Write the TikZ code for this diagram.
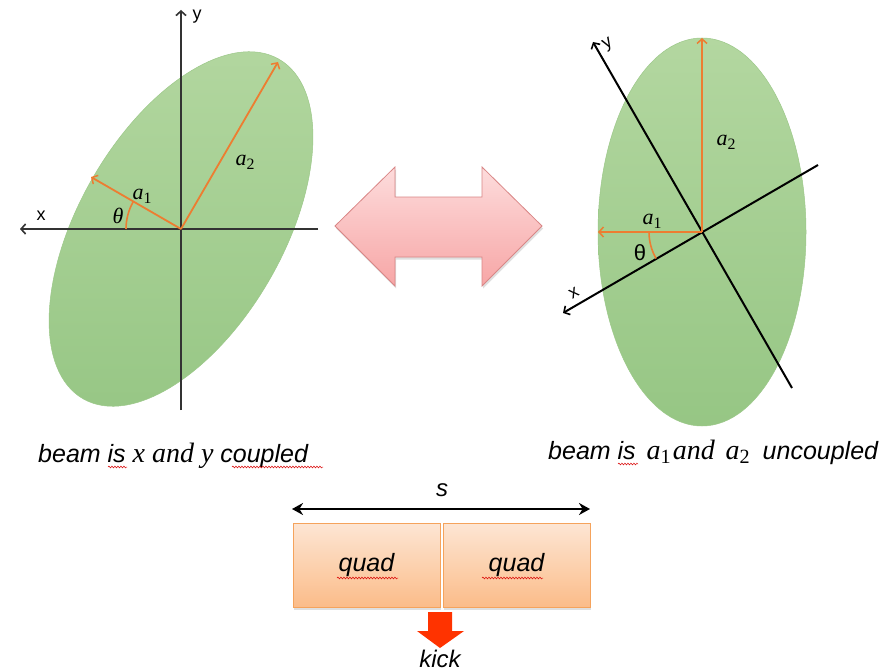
\documentclass[tikz,border=0pt]{standalone}
\usepackage{fontspec}
\setmainfont{Liberation Sans}
\newfontfamily\mfont{Liberation Serif}
\newcommand\mv[1]{{\mfont\itshape #1}}
\newcommand\mvc[1]{{\fontsize{28}{30}\selectfont\mfont\itshape #1}}
\newcommand\subsc[1]{\raisebox{-0.35ex}{\scalebox{0.72}{\mfont\upshape #1}}}
\usetikzlibrary{arrows.meta,shadows,decorations.pathmorphing}
\definecolor{gtop}{HTML}{B3D7A0}
\definecolor{gbot}{HTML}{96C684}
\definecolor{gedge}{HTML}{9CC889}
\definecolor{orng}{HTML}{ED7D31}
\definecolor{axgray}{HTML}{333333}
\definecolor{ptop}{HTML}{FDDCDC}
\definecolor{pbot}{HTML}{F7A6A6}
\definecolor{pedge}{HTML}{D98686}
\definecolor{qtop}{HTML}{FDE6D4}
\definecolor{qbot}{HTML}{FBBC89}
\definecolor{qedge}{HTML}{F5A35C}
\definecolor{kickred}{HTML}{FF3300}
\begin{document}
\begin{tikzpicture}[x=1pt,y=-1pt,
  beam/.style={top color=gtop,bottom color=gbot,draw=gedge,line width=0.5pt},
  axisline/.style={draw=axgray,line width=2pt},
  barb/.style={-{Straight Barb[length=4.5pt,width=10pt,line width=1.6pt]}},
  orarrow/.style={draw=orng,line width=1.8pt,-{Straight Barb[length=4.5pt,width=10pt,line width=1.5pt]}},
  anglearc/.style={draw=orng,line width=1.6pt},
  axlabel/.style={font=\fontsize{18}{20}\selectfont,inner sep=0pt},
  mlabel/.style={font=\fontsize{22}{24}\selectfont,inner sep=0pt},
  caption/.style={font=\fontsize{25}{28}\selectfont,inner sep=0pt,anchor=base west},
  quadbox/.style={top color=qtop,bottom color=qbot,draw=qedge,line width=0.8pt,
    minimum width=147pt,minimum height=84pt,inner sep=0pt,
    font=\fontsize{25}{30}\selectfont\itshape,
    drop shadow={opacity=0.25,shadow xshift=1pt,shadow yshift=-2.5pt}},
  wavy/.style={draw=red!85!black,line width=0.5pt,decorate,
    decoration={snake,amplitude=0.9pt,segment length=3pt}}
]
\useasboundingbox (0,0) rectangle (885,671);
\fill[white] (0,0) rectangle (885,671);

% ---------- left beam ----------
\coordinate (cL) at (181,229);
\shade[beam,rotate around={60:(cL)}] (cL) ellipse [x radius=196,y radius=102];
\coordinate (xL) at (20,229);
\coordinate (xR) at (318,229);
\coordinate (yT) at (181,10);
\coordinate (yB) at (181,410);
\draw[axisline,barb] (xR) -- (xL);
\draw[axisline,barb] (yB) -- (yT);
\node[axlabel] (lx) at (41,216) {x};
\node[axlabel] (ly) at (197,17) {y};
\coordinate (a1L) at (91,177);
\coordinate (a2L) at (278,62);
\draw[orarrow] (cL) -- (a1L);
\draw[orarrow] (cL) -- (a2L);
\draw[anglearc] (cL) ++(-55,0) arc[start angle=180,end angle=210,radius=55];
\node[mlabel] (thL) at (118,216) {\mv{θ}};
\node[mlabel] (la1) at (142,196) {\mv{a}\subsc{1}};
\node[mlabel] (la2) at (245,162) {\mv{a}\subsc{2}};

% ---------- right beam ----------
\coordinate (cR) at (702,232);
\shade[beam] (cR) ellipse [x radius=104,y radius=194];
\coordinate (rxT) at (818,165);
\coordinate (rxA) at (563,313);
\coordinate (ryB) at (792,388);
\coordinate (ryA) at (593,42);
\draw[draw=black,line width=2pt,barb] (rxT) -- (rxA);
\draw[draw=black,line width=2pt,barb] (ryB) -- (ryA);
\node[axlabel,rotate=30] (rx) at (574,293) {x};
\node[axlabel,rotate=30] (ry) at (608,45) {y};
\coordinate (a1R) at (598,232);
\coordinate (a2R) at (702,38);
\draw[orarrow] (cR) -- (a1R);
\draw[orarrow] (cR) -- (a2R);
\draw[anglearc] (cR) ++(-53,0) arc[start angle=180,end angle=150,radius=53];
\node[mlabel] (thR) at (640,253) {θ};
\node[mlabel] (ra1) at (652,221) {\mv{a}\subsc{1}};
\node[mlabel] (ra2) at (726,142) {\mv{a}\subsc{2}};

% ---------- double arrow ----------
\shade[top color=ptop,bottom color=pbot,draw=pedge,line width=0.8pt,
  drop shadow={opacity=0.25,shadow xshift=1pt,shadow yshift=-2.5pt}]
  (335,226) -- (395,167) -- (395,197) -- (482,197) -- (482,167) -- (542,226)
  -- (482,286) -- (482,257) -- (395,257) -- (395,286) -- cycle;

% ---------- captions ----------
\node[caption] (capL) at (38,462) {\itshape beam is \mvc{x} \mvc{and} \mvc{y} coupled};
\node[caption] (capR) at (548,459) {\itshape beam is\hspace{4pt} \mvc{a}\subsc{\fontsize{28}{30}\selectfont 1}\hspace{2pt}\mvc{and}\hspace{4pt} \mvc{a}\subsc{\fontsize{28}{30}\selectfont 2}\hspace{6pt} uncoupled};

% ---------- quads ----------
\coordinate (sL) at (292,509);
\coordinate (sR) at (590,509);
\draw[line width=2.2pt,{Stealth[length=11pt,width=12pt]}-{Stealth[length=11pt,width=12pt]}] (sL) -- (sR);
\node[font=\fontsize{24}{28}\selectfont\itshape,inner sep=0pt] (slab) at (442,490) {s};
\node[quadbox] (q1) at (366.5,565) {quad};
\node[quadbox] (q2) at (516.5,565) {quad};

% ---------- kick ----------
\fill[kickred] (428,612) -- (452,612) -- (452,631) -- (464,631) -- (440,648)
  -- (417,631) -- (428,631) -- cycle;
\node[font=\fontsize{24}{28}\selectfont\itshape,inner sep=0pt] (kick) at (440,659) {kick};

% ---------- spell-check underlines ----------
\draw[wavy] (108,467) -- (127,467);
\draw[wavy] (232,467) -- (323,467);
\draw[wavy] (618,464) -- (638,464);
\draw[wavy] (337,578) -- (398,578);
\draw[wavy] (482,578) -- (543,578);
\end{tikzpicture}
\end{document}
